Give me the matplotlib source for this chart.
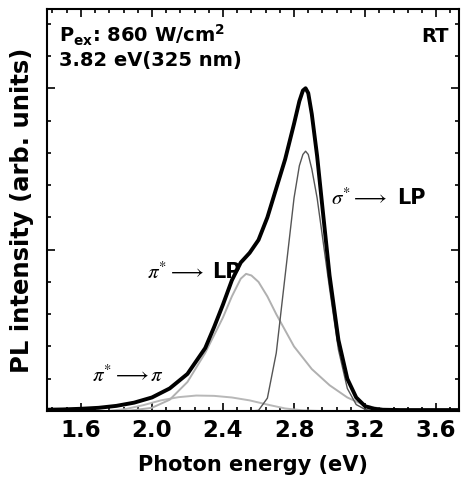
import numpy as np
import matplotlib.pyplot as plt
from matplotlib.ticker import MultipleLocator

plt.rcParams['font.family'] = ['DejaVu Sans']

# photon energy (eV) and PL intensity (arb. units)
total_x = [1.41, 1.5, 1.6, 1.7, 1.8, 1.9, 2.0, 2.1, 2.2, 2.3, 2.35, 2.4, 2.45, 2.5, 2.55,
           2.6, 2.65, 2.7, 2.75, 2.8, 2.83, 2.85, 2.865, 2.88, 2.9, 2.93, 2.96, 3.0, 3.05,
           3.1, 3.15, 3.2, 3.25, 3.3, 3.4, 3.6, 3.73]
total_y = [0.04, 0.05, 0.07, 0.1, 0.16, 0.26, 0.42, 0.7, 1.15, 1.95, 2.6, 3.3, 4.05, 4.6, 4.9,
           5.3, 6.0, 6.9, 7.8, 8.9, 9.6, 9.93, 10.0, 9.85, 9.2, 7.9, 6.3, 4.2, 2.2,
           1.0, 0.42, 0.15, 0.07, 0.04, 0.03, 0.03, 0.03]

sigma_x = [2.55, 2.6, 2.65, 2.7, 2.75, 2.8, 2.83, 2.85, 2.865, 2.88, 2.9, 2.93, 2.96, 3.0,
           3.05, 3.1, 3.15, 3.2, 3.25]
sigma_y = [0.0, 0.02, 0.4, 1.8, 4.2, 6.6, 7.6, 7.95, 8.05, 7.95, 7.5, 6.6, 5.4, 3.8,
           1.9, 0.7, 0.2, 0.05, 0.0]

pilp_x = [1.85, 1.9, 2.0, 2.1, 2.2, 2.3, 2.4, 2.45, 2.5, 2.53, 2.56, 2.6, 2.65, 2.7,
          2.75, 2.8, 2.9, 3.0, 3.1, 3.2, 3.3, 3.4]
pilp_y = [0.0, 0.03, 0.1, 0.35, 0.9, 1.8, 2.9, 3.55, 4.1, 4.25, 4.2, 4.0, 3.55, 3.0,
          2.5, 2.0, 1.3, 0.8, 0.42, 0.17, 0.06, 0.0]

pipi_x = [1.75, 1.85, 1.95, 2.05, 2.15, 2.25, 2.35, 2.45, 2.55, 2.65, 2.75, 2.85, 2.95]
pipi_y = [0.0, 0.06, 0.18, 0.33, 0.43, 0.48, 0.47, 0.42, 0.33, 0.2, 0.08, 0.02, 0.0]

xticks = [1.6, 2.0, 2.4, 2.8, 3.2, 3.6]

fig = plt.figure(figsize=(4.62, 4.83), dpi=100)
ax = fig.add_axes([0.102, 0.149, 0.892, 0.832])

ax.plot(pipi_x, pipi_y, color='#b8b8b8', lw=1.4)
ax.plot(pilp_x, pilp_y, color='#b0b0b0', lw=1.4)
ax.plot(sigma_x, sigma_y, color='#555555', lw=1.0)
ax.plot(total_x, total_y, color='black', lw=2.8)

ax.set_xlim(1.41, 3.73)
ax.set_ylim(0, 12.45)
ax.set_xticks(xticks)
ax.set_xticklabels(['%.1f' % t for t in xticks])
ax.xaxis.set_minor_locator(MultipleLocator(0.08))
ax.yaxis.set_major_locator(MultipleLocator(5))
ax.yaxis.set_minor_locator(MultipleLocator(1))
ax.set_yticklabels([])
ax.tick_params(which='both', direction='in', top=True, right=True, width=1.2)
ax.tick_params(which='major', length=6)
ax.tick_params(which='minor', length=3)
ax.tick_params(axis='x', which='major', labelsize=16.5, pad=6)
for lab in ax.get_xticklabels():
    lab.set_fontweight('bold')
for sp in ax.spines.values():
    sp.set_linewidth(1.5)

ax.set_xlabel('Photon energy (eV)', fontsize=15, fontweight='bold', labelpad=9)
ax.set_ylabel('PL intensity (arb. units)', fontsize=17.5, fontweight='bold', labelpad=6)

ax.text(0.03, 0.965, r'P$_{\mathbf{ex}}$: 860 W/cm$^{\mathbf{2}}$',
        transform=ax.transAxes, ha='left', va='top', fontsize=14, fontweight='bold')
ax.text(0.03, 0.895, '3.82 eV(325 nm)',
        transform=ax.transAxes, ha='left', va='top', fontsize=14, fontweight='bold')
ax.text(0.975, 0.955, 'RT', transform=ax.transAxes, ha='right', va='top',
        fontsize=14, fontweight='bold')

greek = dict(fontsize=15, math_fontfamily='stix', va='center')
ax.text(3.01, 6.6, r'$\sigma^{*}\longrightarrow$', **greek)
ax.text(3.38, 6.6, 'LP', fontsize=15, fontweight='bold', va='center')
ax.text(1.97, 4.3, r'$\pi^{*}\longrightarrow$', **greek)
ax.text(2.34, 4.3, 'LP', fontsize=15, fontweight='bold', va='center')
ax.text(1.66, 1.1, r'$\pi^{*}\longrightarrow\pi$', **greek)

fig.savefig('out.png', dpi=100)
